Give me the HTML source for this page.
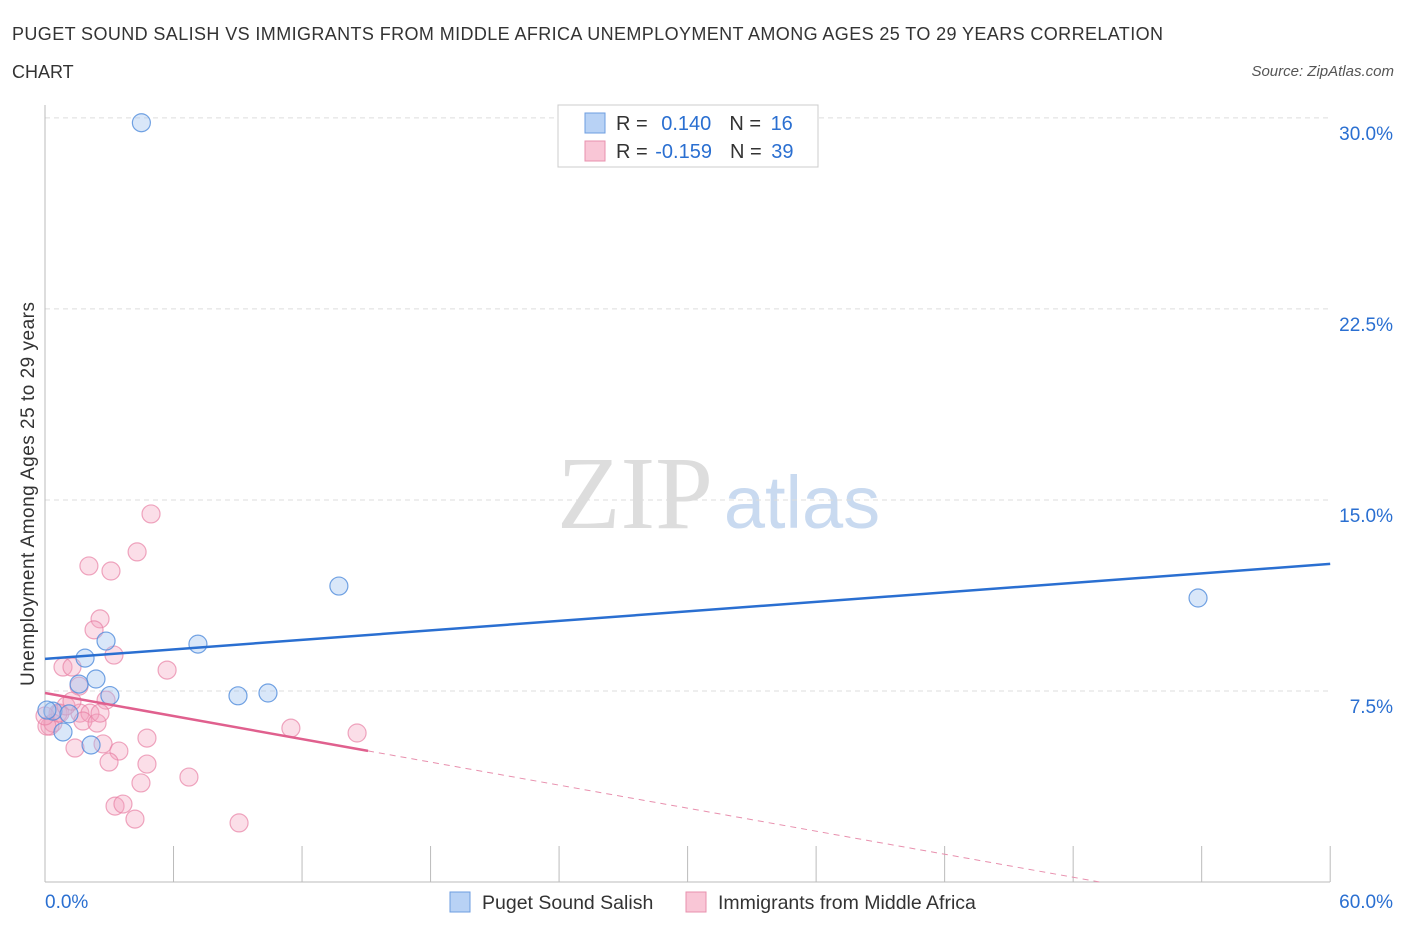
<!DOCTYPE html>
<html><head><meta charset="utf-8"><style>
body{margin:0;background:#fff;font-family:"Liberation Sans",sans-serif;}
</style></head><body>
<svg width="1406" height="930" xmlns="http://www.w3.org/2000/svg" id="svg">
<text x="12" y="40" font-size="18" fill="#333" textLength="1151">PUGET SOUND SALISH VS IMMIGRANTS FROM MIDDLE AFRICA UNEMPLOYMENT AMONG AGES 25 TO 29 YEARS CORRELATION</text>
<text x="12" y="78" font-size="18" fill="#333">CHART</text>
<text x="1394" y="76" font-size="15" fill="#555" font-style="italic" text-anchor="end">Source: ZipAtlas.com</text>
<text x="635" y="528" font-size="104" fill="#ddd" font-family="Liberation Serif" text-anchor="middle">ZIP</text>
<text x="802" y="528" font-size="74" fill="#c9daf0" text-anchor="middle">atlas</text>
<text transform="translate(34,494) rotate(-90)" font-size="19" fill="#333" text-anchor="middle" textLength="384">Unemployment Among Ages 25 to 29 years</text>
<g id="grid"></g><g id="marks"></g>
<g>
<rect x="558" y="105" width="260" height="62" fill="#fff" stroke="#ccc"/>
<rect x="585" y="113" width="20" height="20" fill="#b8d2f5" stroke="#6d9de0"/>
<rect x="585" y="141" width="20" height="20" fill="#f9c6d6" stroke="#e890ae"/>
<text x="616" y="130" font-size="20" fill="#333">R = <tspan fill="#2a6fd1" dx="8">0.140</tspan><tspan fill="#333" dx="18">N = </tspan><tspan fill="#2a6fd1" dx="4">16</tspan></text>
<text x="616" y="158" font-size="20" fill="#333">R = <tspan fill="#2a6fd1" dx="2">-0.159</tspan><tspan fill="#333" dx="18">N = </tspan><tspan fill="#2a6fd1" dx="4">39</tspan></text>
</g>
<g>
<rect x="450" y="892" width="20" height="20" fill="#b8d2f5" stroke="#6d9de0"/>
<text x="482" y="909" font-size="19.5" fill="#333">Puget Sound Salish</text>
<rect x="686" y="892" width="20" height="20" fill="#f9c6d6" stroke="#e890ae"/>
<text x="718" y="909" font-size="19.5" fill="#333">Immigrants from Middle Africa</text>
</g>
</svg>
<script>
const yTicks=[7.5,15,22.5,30];
const yTickLabels=["7.5%","15.0%","22.5%","30.0%"];
const xTickLabels=["0.0%","60.0%"];
const blueX=[4.50,13.72,53.83,2.85,7.14,1.87,2.38,3.03,9.01,10.41,0.37,1.12,0.84,0.09,2.15,1.59];
const blueY=[29.81,11.62,11.15,9.46,9.34,8.79,7.97,7.32,7.31,7.42,6.71,6.60,5.89,6.75,5.38,7.77];
const pinkX=[4.95,4.30,2.05,3.08,2.57,2.29,3.22,0.84,1.26,5.70,1.59,2.85,1.63,2.10,1.77,2.43,0.61,0.23,0.37,4.76,11.48,14.57,1.40,2.71,3.45,2.99,4.76,4.48,6.72,3.27,3.64,4.20,9.06,0.09,0.70,0.98,1.26,2.57,0.00];
const pinkY=[14.45,12.96,12.41,12.21,10.33,9.90,8.91,8.44,8.44,8.32,7.69,7.14,6.63,6.63,6.32,6.24,6.63,6.12,6.24,5.65,6.04,5.85,5.26,5.42,5.14,4.71,4.63,3.89,4.12,2.98,3.06,2.47,2.32,6.12,6.63,6.91,7.10,6.63,6.52];
const blueTrend=[8.76,12.49];
const pinkTrend=[7.42,-0.1507];
const X=v=>45+v*21.42, Y=v=>882-v*25.47;
const NS="http://www.w3.org/2000/svg";
const svg=document.getElementById('svg'),grid=document.getElementById('grid'),marks=document.getElementById('marks');
function mk(tag,at,parent){const e=document.createElementNS(NS,tag);for(const k in at)e.setAttribute(k,at[k]);(parent||svg).appendChild(e);return e;}
yTicks.forEach((t,i)=>{
 const g=mk('line',{x1:45,x2:1330,y1:Y(t),y2:Y(t),stroke:'#ddd','stroke-dasharray':'5,4'},grid);
 
 
 const tx=mk('text',{x:1393,y:Y(t)+22,'font-size':19,fill:'#2a6fd1','text-anchor':'end'},grid);
 tx.textContent=yTickLabels[i];
 
 
});
let ax=mk('line',{x1:45,x2:45,y1:105,y2:882,stroke:'#bbb'},grid);


ax=mk('line',{x1:45,x2:1330,y1:882,y2:882,stroke:'#bbb'},grid);


for(let i=0;i<=10;i++){const t=mk('line',{x1:X(i*6),x2:X(i*6),y1:846,y2:882,stroke:'#bbb'},grid);
 
 }
[[0,'start',45],[60,'end',1393]].forEach((d,i)=>{const t=mk('text',{x:d[2],y:908,'font-size':19,fill:'#2a6fd1','text-anchor':d[1]},grid);t.textContent=xTickLabels[i];
 
 });
pinkX.forEach((x,i)=>{const c=mk('circle',{cx:X(x),cy:Y(pinkY[i]),r:9,fill:'rgba(244,160,190,0.35)',stroke:'rgba(232,130,165,0.7)','stroke-width':1.2},marks);
 
 });
blueX.forEach((x,i)=>{const c=mk('circle',{cx:X(x),cy:Y(blueY[i]),r:9,fill:'rgba(160,195,240,0.4)',stroke:'rgba(80,140,220,0.8)','stroke-width':1.2},marks);
 
 });
let l=mk('line',{x1:X(0),y1:Y(blueTrend[0]),x2:X(60),y2:Y(blueTrend[1]),stroke:'#2a6fd1','stroke-width':2.5},marks);


const xe=15.08, xz=-pinkTrend[0]/pinkTrend[1];
l=mk('line',{x1:X(0),y1:Y(pinkTrend[0]),x2:X(xe),y2:Y(pinkTrend[0]+pinkTrend[1]*xe),stroke:'#e0608e','stroke-width':2.5},marks);


l=mk('line',{x1:X(xe),y1:Y(pinkTrend[0]+pinkTrend[1]*xe),x2:X(xz),y2:Y(0),stroke:'#e890ae','stroke-width':1,'stroke-dasharray':'6,5'},marks);


</script>
</body></html>
